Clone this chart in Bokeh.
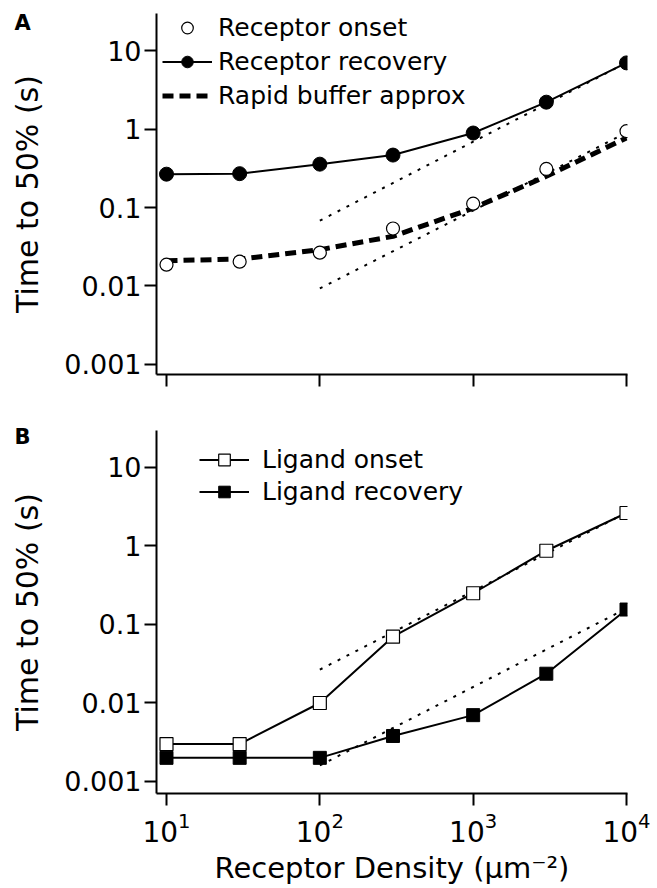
from bokeh.plotting import figure
from bokeh.models import Range1d, FixedTicker, Legend, LegendItem, Title
from bokeh.layouts import column
from bokeh.embed import file_html
from bokeh.resources import INLINE

# ---- data ----
density = [10, 30, 100, 300, 1000, 3000, 10000]
receptor_onset = [0.0187, 0.0204, 0.0266, 0.054, 0.112, 0.31, 0.94]
receptor_recovery = [0.266, 0.27, 0.357, 0.466, 0.89, 2.2, 6.97]
rapid_buffer = [0.021, 0.022, 0.029, 0.043, 0.098, 0.25, 0.77]
asym_density = [100, 10000]
receptor_recovery_asym = [0.068, 7.0]
receptor_onset_asym = [0.0093, 0.9]
ligand_onset = [0.003, 0.003, 0.01, 0.070, 0.25, 0.87, 2.63]
ligand_recovery = [0.002, 0.002, 0.002, 0.0038, 0.0070, 0.0236, 0.155]
ligand_onset_asym = [0.0266, 2.66]
ligand_recovery_asym = [0.0016, 0.16]
y_ticks = [0.001, 0.01, 0.1, 1, 10]
y_tick_labels = ["0.001", "0.01", "0.1", "1", "10"]
x_ticks = [10, 100, 1000, 10000]

FONT = "DejaVu Sans"


def make_fig(height, top, bottom, ylo, yhi, letter, title_standoff):
    p = figure(width=657, height=height, x_axis_type="log", y_axis_type="log",
               x_range=Range1d(10 ** 0.9348, 10 ** 4.0065),
               y_range=Range1d(10 ** ylo, 10 ** yhi),
               output_backend="svg", toolbar_location=None,
               min_border_left=156, min_border_right=30,
               min_border_top=top, min_border_bottom=bottom)
    p.title.text = letter
    p.title.align = "left"
    p.title.vertical_align = "bottom"
    p.title.offset = -142
    p.title.standoff = title_standoff
    p.title.text_font = FONT
    p.title.text_font_style = "bold"
    p.title.text_font_size = "21px"
    p.title.text_color = "black"
    p.outline_line_color = None
    p.grid.visible = False
    p.background_fill_color = "white"
    for ax in (p.xaxis[0], p.yaxis[0]):
        ax.axis_line_width = 2
        ax.axis_line_color = "black"
        ax.major_tick_line_width = 2
        ax.major_tick_line_color = "black"
        ax.major_tick_out = 12
        ax.major_tick_in = 0
        ax.minor_tick_line_color = None
        ax.major_label_text_font = FONT
        ax.major_label_text_color = "black"
        ax.axis_label_text_font = FONT
        ax.axis_label_text_font_style = "normal"
        ax.axis_label_text_color = "black"
    p.xaxis.major_label_text_font_size = "28px"
    p.yaxis.major_label_text_font_size = "27px"
    p.yaxis.axis_label_text_font_size = "30px"
    p.xaxis.axis_label_text_font_size = "29px"
    p.xaxis.ticker = FixedTicker(ticks=x_ticks, minor_ticks=[])
    p.yaxis.ticker = FixedTicker(ticks=y_ticks, minor_ticks=[])
    p.yaxis.major_label_overrides = dict(zip(y_ticks, y_tick_labels))
    p.yaxis.major_label_standoff = 3
    p.yaxis.axis_label = "Time to 50% (s)"
    p.yaxis.axis_label_standoff = 16
    return p


# ---- Panel A ----
pA = make_fig(400, 13, 26, -3.128, 1.4726, "A", -42)
pA.xaxis.major_label_overrides = {t: "" for t in x_ticks}
pA.xaxis.major_label_text_font_size = "2px"

pA.line(asym_density, receptor_recovery_asym, line_color="black", line_width=2, line_dash="3 7")
pA.line(asym_density, receptor_onset_asym, line_color="black", line_width=2, line_dash="3 7")
l_buf = pA.line(density, rapid_buffer, line_color="black", line_width=5, line_dash="11 6")
l_rec = pA.line(density, receptor_recovery, line_color="black", line_width=2)
s_rec = pA.scatter(density, receptor_recovery, marker="circle", size=14,
                   fill_color="black", line_color="black")
s_on = pA.scatter(density, receptor_onset, marker="circle", size=13,
                  fill_color="white", line_color="black", line_width=1.2)

legA = Legend(items=[
    LegendItem(label="Receptor onset", renderers=[s_on]),
    LegendItem(label="Receptor recovery", renderers=[l_rec, s_rec]),
    LegendItem(label="Rapid buffer approx", renderers=[l_buf]),
], location=(6, 264), border_line_color=None, background_fill_alpha=0,
    label_text_font=FONT, label_text_font_size="25px", label_text_color="black",
    glyph_width=50, glyph_height=29, label_height=29, spacing=5, padding=0,
    margin=0, label_standoff=6)
pA.add_layout(legA)

# ---- Panel B ----
pB = make_fig(488, 30, 95, -3.153, 1.471, "B", -36)
pB.xaxis.axis_label = "Receptor Density (µm⁻²)"
pB.xaxis.major_label_standoff = 6
pB.xaxis.axis_label_standoff = 6

pB.line(asym_density, ligand_onset_asym, line_color="black", line_width=2, line_dash="3 7")
pB.line(asym_density, ligand_recovery_asym, line_color="black", line_width=2, line_dash="3 7")
l_lon = pB.line(density, ligand_onset, line_color="black", line_width=2)
s_lon = pB.scatter(density, ligand_onset, marker="square", size=13,
                   fill_color="white", line_color="black", line_width=1.2)
l_lrec = pB.line(density, ligand_recovery, line_color="black", line_width=2)
s_lrec = pB.scatter(density, ligand_recovery, marker="square", size=13,
                    fill_color="black", line_color="black")

legB = Legend(items=[
    LegendItem(label="Ligand onset", renderers=[l_lon, s_lon]),
    LegendItem(label="Ligand recovery", renderers=[l_lrec, s_lrec]),
], location=(43, 287), border_line_color=None, background_fill_alpha=0,
    label_text_font=FONT, label_text_font_size="25px", label_text_color="black",
    glyph_width=50, glyph_height=29, label_height=29, spacing=3, padding=0,
    margin=0, label_standoff=13)
pB.add_layout(legB)

layout = column(pA, pB, spacing=0)
open("out.html", "w").write(file_html(layout, INLINE))
